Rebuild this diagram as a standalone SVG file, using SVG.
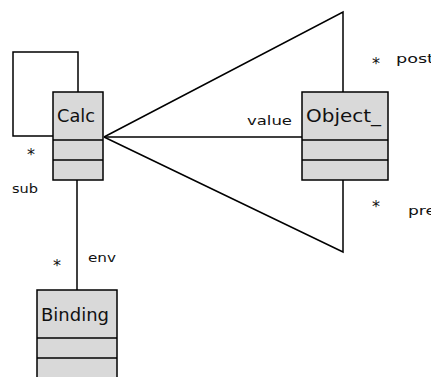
<svg xmlns="http://www.w3.org/2000/svg" width="431" height="377" viewBox="0 0 431 377">
<style>
.box{fill:#d9d9d9;stroke:#000;stroke-width:1.5}
.ln{fill:none;stroke:#000;stroke-width:1.5}
text{font-family:"DejaVu Sans",sans-serif;font-size:17px;fill:#111}
.s{font-size:13px}
.st{font-size:16px}
</style>
<rect width="431" height="377" fill="#fff"/>
<g id="connectors">
<polyline class="ln" points="78,92 78,52 13,52 13,136 53,136"/>
<line class="ln" x1="104" y1="137" x2="302" y2="137"/>
<polyline class="ln" points="104,137 343,12 343,92"/>
<polyline class="ln" points="104,137 343,252 343,180"/>
<line class="ln" x1="77" y1="180" x2="77" y2="290"/>
<text class="st" x="27" y="160">*</text>
<text class="s" x="12" y="193" textLength="26" lengthAdjust="spacingAndGlyphs">sub</text>
<text class="s" x="247" y="125" textLength="45" lengthAdjust="spacingAndGlyphs">value</text>
<text class="st" x="372" y="69">*</text>
<text class="s" x="396" y="63" textLength="38" lengthAdjust="spacingAndGlyphs">post</text>
<text class="st" x="372" y="212">*</text>
<text class="s" x="408" y="215" textLength="28" lengthAdjust="spacingAndGlyphs">pre</text>
<text class="st" x="53" y="271">*</text>
<text class="s" x="88" y="262" textLength="28" lengthAdjust="spacingAndGlyphs">env</text>
</g>
<g id="Calc">
<rect class="box" x="53" y="92" width="50" height="88"/>
<line class="ln" x1="53" y1="140" x2="103" y2="140"/>
<line class="ln" x1="53" y1="160" x2="103" y2="160"/>
<text x="57" y="122" textLength="38" lengthAdjust="spacingAndGlyphs">Calc</text>
</g>
<g id="Object_">
<rect class="box" x="302" y="92" width="86" height="88"/>
<line class="ln" x1="302" y1="140" x2="388" y2="140"/>
<line class="ln" x1="302" y1="160" x2="388" y2="160"/>
<text x="306" y="122" textLength="75" lengthAdjust="spacingAndGlyphs">Object_</text>
</g>
<g id="Binding">
<rect class="box" x="37" y="290" width="80" height="100"/>
<line class="ln" x1="37" y1="338" x2="117" y2="338"/>
<line class="ln" x1="37" y1="358" x2="117" y2="358"/>
<text x="41" y="321" textLength="68" lengthAdjust="spacingAndGlyphs">Binding</text>
</g>
</svg>
